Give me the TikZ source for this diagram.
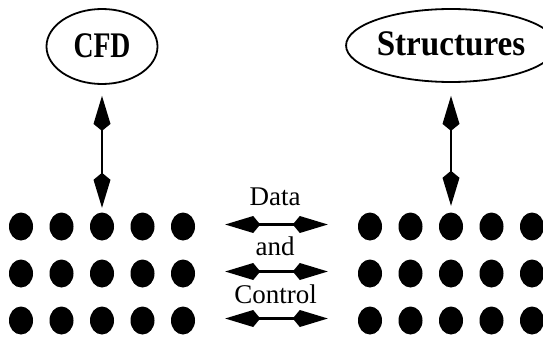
\documentclass[tikz,border=0pt]{standalone}
\usepackage{fontspec}
\setmainfont{Liberation Serif}
\usetikzlibrary{arrows.meta,shapes.geometric}
\tikzset{
  bigell/.style={draw, ellipse, line width=1.8pt, inner sep=0pt,
    font=\fontsize{36}{40}\bfseries\selectfont, text height=25pt, text depth=4pt},
  dot/.style={ellipse, fill=black, inner sep=0pt, minimum width=24pt, minimum height=28pt},
  lbl/.style={anchor=base, inner sep=0pt, font=\fontsize{27}{30}\selectfont},
  kt/.tip={Kite[length=35pt,width=17pt,inset=7pt]},
  arr/.style={kt-kt, line width=2.6pt}
}
\begin{document}
\begin{tikzpicture}[x=1pt,y=-1pt]
\useasboundingbox (0,0) rectangle (543,337);
\node[bigell, minimum width=111pt, minimum height=75pt] (cfd) at (102,46.5) {\scalebox{0.77}[1]{CFD}};
\node[bigell, minimum width=177pt, minimum height=73pt] (str) at (451,45.5) {\scalebox{0.92}[1]{Structures}};
\foreach \r/\y in {1/226.5,2/273.5,3/320.5}{
  \foreach \c in {1,...,5}{
    \node[dot] (L\r\c) at ({21+40.5*(\c-1)},\y) {};
    \node[dot] (R\r\c) at ({370+40.5*(\c-1)},\y) {};
  }
}
\draw[arr, shorten <=11pt, shorten >=4.5pt] (cfd.south) -- (L13.north);
\draw[arr, shorten <=13pt, shorten >=6.5pt] (str.south) -- (R13.north);
\foreach \r in {1,2,3}{
  \draw[arr, shorten <=30pt, shorten >=30pt] ([yshift=2pt]L\r5.east) -- ([yshift=2pt]R\r1.west);
}
\node[lbl] (data) at (275,205) {Data};
\node[lbl] (and) at (275,255) {and};
\node[lbl] (ctrl) at (275.5,303) {Control};
\end{tikzpicture}
\end{document}
